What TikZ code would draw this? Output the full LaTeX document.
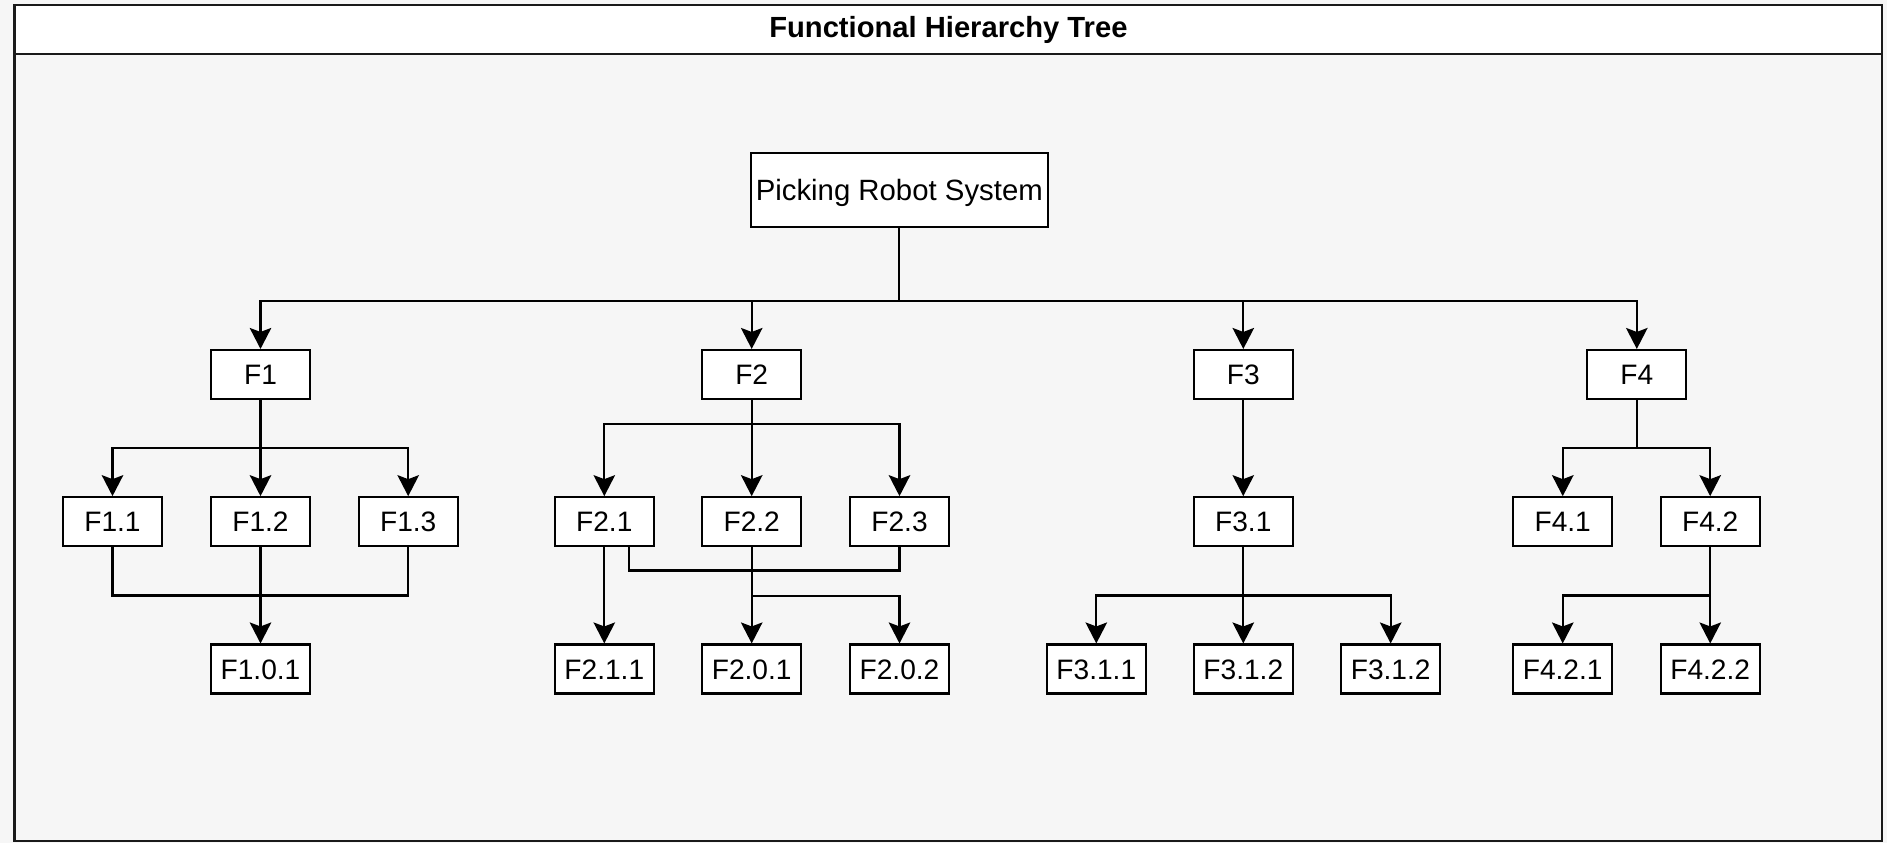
\documentclass[tikz,border=0pt]{standalone}
\usepackage{fontspec}
\setmainfont{Liberation Sans}
\usetikzlibrary{calc,arrows.meta}
\definecolor{panel}{HTML}{F6F6F6}
\definecolor{frameline}{HTML}{1A1A1A}
\tikzset{fbox/.style={draw, fill=white, line width=1.2pt, minimum width=1.98cm, minimum height=0.98cm,
		inner sep=0pt, text height=11.5pt, text depth=0pt, font=\fontsize{16}{19}\selectfont}}
\tikzset{link/.style={line width=1.25pt}}

\begin{document}
\begin{tikzpicture}[x=0.02cm, y=-0.02cm, >={Stealth[length=0.42cm,width=0.43cm,inset=0.08cm]}]
	\fill[panel] (0,0) rectangle (1887,843);
	\useasboundingbox (0,0) rectangle (1887,843);
	% frame with title bar
	\draw[frameline, line width=1.3pt] (14.5,5) rectangle (1882.3,840.7);
	\filldraw[fill=white, draw=frameline, line width=1.3pt] (14.5,5) rectangle (1882.3,53.7);
	\node[anchor=base, inner sep=0pt, font=\bfseries\fontsize{16.6}{20}\selectfont] (title) at (948.4,37.3) {Functional Hierarchy Tree};
	
	\node[fbox, minimum width=5.94cm, minimum height=1.48cm, text height=12pt, font=\fontsize{16.7}{20}\selectfont] (root) at (899.3,189.8) {Picking Robot System};
	
	\node[fbox] (F1) at (260.5,374.5) {F1};
	\node[fbox] (F2) at (751.7,374.5) {F2};
	\node[fbox] (F3) at (1243.3,374.5) {F3};
	\node[fbox] (F4) at (1636.8,374.5) {F4};
	
	\node[fbox] (F11) at (112.5,521.7) {F1.1};
	\node[fbox] (F12) at (260.5,521.7) {F1.2};
	\node[fbox] (F13) at (408.2,521.7) {F1.3};
	\node[fbox] (F21) at (604.3,521.7) {F2.1};
	\node[fbox] (F22) at (751.7,521.7) {F2.2};
	\node[fbox] (F23) at (899.5,521.7) {F2.3};
	\node[fbox] (F31) at (1243.3,521.7) {F3.1};
	\node[fbox] (F41) at (1562.7,521.7) {F4.1};
	\node[fbox] (F42) at (1710.2,521.7) {F4.2};
	
	\node[fbox] (F101) at (260.5,669) {F1.0.1};
	\node[fbox] (F211) at (604.3,669) {F2.1.1};
	\node[fbox] (F201) at (751.7,669) {F2.0.1};
	\node[fbox] (F202) at (899.5,669) {F2.0.2};
	\node[fbox] (F311) at (1096.3,669) {F3.1.1};
	\node[fbox] (F312) at (1243.3,669) {F3.1.2};
	\node[fbox] (F312b) at (1390.7,669) {F3.1.2};
	\node[fbox] (F421) at (1562.7,669) {F4.2.1};
	\node[fbox] (F422) at (1710.2,669) {F4.2.2};
	
	% root to F1..F4
	\coordinate (bus) at (899.3,300.7);
	\draw[link] (root.south) -- (bus);
	\foreach \n in {F1,F2,F3,F4}
	\draw[link,->] (bus) -| (\n.north);
	
	% F1
	\draw[link,->] (F1.south) -- (F12.north);
	\draw[link,->] (F1.south) -- ++(0,48.3) -| (F11.north);
	\draw[link,->] (F1.south) -- ++(0,48.3) -| (F13.north);
	\draw[link] (F11.south) -- ++(0,48.3) -| (F13.south);
	\draw[link,->] (F12.south) -- (F101.north);
	
	% F2
	\draw[link,->] (F2.south) -- (F22.north);
	\draw[link,->] (F2.south) -- ++(0,24.3) -| (F21.north);
	\draw[link,->] (F2.south) -- ++(0,24.3) -| (F23.north);
	\draw[link,->] (F21.south) -- (F211.north);
	\draw[link] ($(F21.south)+(24.7,0)$) -- ++(0,23.3) -| (F23.south);
	\draw[link,->] (F22.south) -- (F201.north);
	\draw[link,->] (F22.south) -- ++(0,48.7) -| (F202.north);
	
	% F3
	\draw[link,->] (F3.south) -- (F31.north);
	\draw[link,->] (F31.south) -- (F312.north);
	\draw[link,->] (F31.south) -- ++(0,48.3) -| (F311.north);
	\draw[link,->] (F31.south) -- ++(0,48.3) -| (F312b.north);
	
	% F4
	\draw[link,->] (F4.south) -- ++(0,48.3) -| (F41.north);
	\draw[link,->] (F4.south) -- ++(0,48.3) -| (F42.north);
	\draw[link,->] (F42.south) -- (F422.north);
	\draw[link,->] (F42.south) -- ++(0,48.3) -| (F421.north);
	
\end{tikzpicture}
\end{document}
